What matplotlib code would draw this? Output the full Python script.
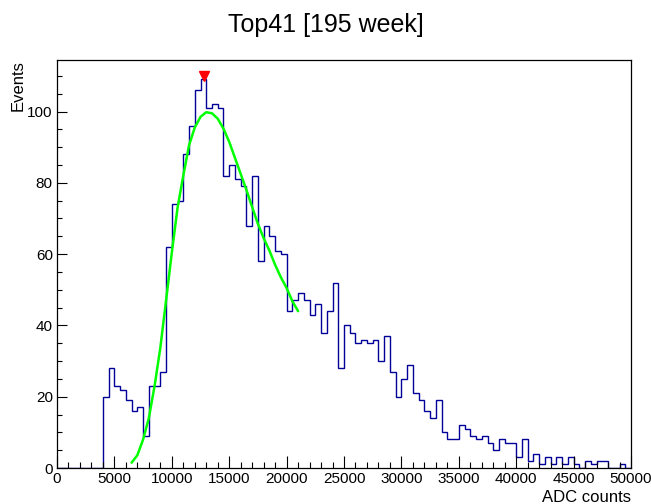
import numpy as np
import matplotlib
matplotlib.use("Agg")
import matplotlib.pyplot as plt
from matplotlib.ticker import MultipleLocator

plt.rcParams['font.family'] = ['Liberation Sans', 'DejaVu Sans']

# Histogram: 100 bins of width 500 ADC counts from 0 to 50000
bin_edges = np.arange(0, 50001, 500)
counts = [0, 0, 0, 0, 0, 0, 0, 0,
          20, 28, 23, 22, 19, 16, 17, 9, 23, 23, 27, 62, 74, 75, 88, 96, 106, 109,
          101, 102, 101, 82, 85, 81, 79, 68, 82, 58, 68, 65, 61, 60, 44, 47, 49,
          47, 43, 46, 38, 44, 52, 28, 40, 38, 35, 36, 35, 36, 30, 37, 27, 20, 25,
          29, 21, 19, 16, 14, 19, 10, 8, 8, 12, 11, 9, 8, 9, 7, 5, 8, 7, 7, 3, 8,
          2, 4, 1, 3, 1, 3, 1, 3, 1, 0, 2, 1, 2, 2, 0, 0, 1, 0]

# Fit curve
fit_x = [6500, 7000, 7500, 8000, 8500, 9000, 9500, 10000, 10500, 11000, 11500,
         12000, 12500, 13000, 13500, 14000, 14500, 15000, 15500, 16000, 16500,
         17000, 17500, 18000, 18500, 19000, 19500, 20000, 20500, 21000]
fit_y = [1.5, 3.6, 8.0, 14.0, 23.0, 33.7, 47.0, 60.4, 73.0, 82.0, 90.5,
         95.5, 98.5, 99.8, 99.5, 98.0, 95.2, 91.5, 87.0, 82.5, 78.0,
         73.2, 68.5, 64.5, 61.0, 57.0, 53.5, 50.5, 46.8, 44.0]

# Peak marker
peak_x = [12800]
peak_y = [110]

title = "Top41 [195 week]"
xlabel = "ADC counts"
ylabel = "Events"

fig = plt.figure(figsize=(6.51, 5.04), dpi=100)
ax = fig.add_axes([57/651, 1-468/504, (631-57)/651, (468-60)/504])

ax.stairs(counts, bin_edges, color='#000099', lw=1.0, baseline=0)
ax.plot(fit_x, fit_y, color='#00ff00', lw=1.8, solid_capstyle='round')
ax.plot(peak_x, peak_y, marker='v', color='red', markersize=7, linestyle='none')

ax.set_xlim(0, 50000)
ax.set_ylim(0, max(counts) * 1.05)

ax.xaxis.set_major_locator(MultipleLocator(5000))
ax.xaxis.set_minor_locator(MultipleLocator(1000))
ax.yaxis.set_major_locator(MultipleLocator(20))
ax.yaxis.set_minor_locator(MultipleLocator(5))

ax.tick_params(axis='x', which='major', direction='in', length=8.5, width=0.8,
               labelsize=11, pad=3, top=False)
ax.tick_params(axis='x', which='minor', direction='in', length=4.3, width=0.8, top=False)
ax.tick_params(axis='y', which='major', direction='in', length=7.5, width=0.8,
               labelsize=11, pad=3, right=False)
ax.tick_params(axis='y', which='minor', direction='in', length=3.8, width=0.8, right=False)

for s in ax.spines.values():
    s.set_linewidth(0.9)
    s.set_color('black')

fig.text(0.5, 1-25/504, title, ha='center', va='center', fontsize=18)
fig.text(631/651, 1-497/504, xlabel, ha='right', va='center', fontsize=12)
fig.text(18/651, 1-60/504, ylabel, ha='center', va='top', rotation=90, fontsize=12)

fig.savefig("out.png", dpi=100)
